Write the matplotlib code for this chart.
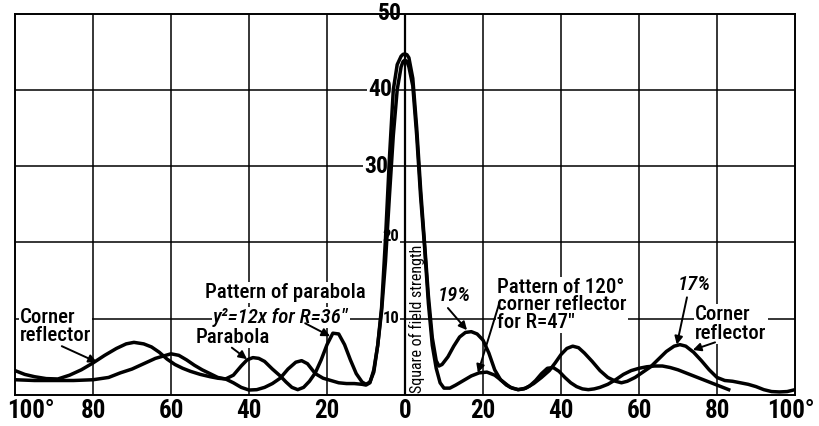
import matplotlib
matplotlib.use('Agg')
import matplotlib.pyplot as plt
from matplotlib import font_manager as fm


def pick_narrow_font():
    # the scan uses a narrow lettering font, take the narrowest one installed
    for fam in ['Roboto Condensed', 'Liberation Sans Narrow', 'Open Sans Condensed']:
        try:
            fm.findfont(fm.FontProperties(family=fam), fallback_to_default=False)
            return fam, 'normal'
        except ValueError:
            pass
    p = fm.findfont(fm.FontProperties(family='DejaVu Sans', stretch='condensed'))
    if 'Condensed' in p:
        return 'DejaVu Sans', 'condensed'
    return 'Liberation Sans', 'normal'


FAM, STRETCH = pick_narrow_font()
plt.rcParams['font.family'] = [FAM, 'DejaVu Sans']
plt.rcParams['font.stretch'] = STRETCH

# angle (deg) and square of field strength
parabola_deg = [-100, -95, -90, -85, -80, -76, -73, -70, -67, -64, -62, -60, -58, -56, -54, -52, -50, -48, -46,
                -44, -42, -40.5, -39, -37.5, -36, -34, -32, -30.5, -29, -27.5, -26, -24.5, -23, -21.5, -20,
                -18.5, -17, -15.5, -14, -12.5, -11, -10, -9, -8, -7, -6, -5, -4, -3, -2, -1, -0.5, 0, 0.5, 1,
                2, 3, 4, 5, 6, 7, 8, 8.7, 9.5, 11, 12.5, 14, 15.5, 17, 18.5, 20, 21.5, 23, 24.5, 26, 27.5,
                29, 30.5, 32, 33.5, 35, 36.5, 38, 39.5, 41, 42.5, 44, 45.5, 47, 48.5, 50, 52, 54, 56, 58, 60,
                62, 64, 66, 68, 70, 72, 74, 76, 78, 80, 82, 83]
parabola_val = [2.0, 1.9, 1.9, 1.9, 2.0, 2.3, 2.9, 3.4, 4.1, 4.8, 5.1, 5.4, 5.2, 4.6, 3.9, 3.3, 2.8, 2.3, 2.1,
                2.6, 3.8, 4.6, 4.9, 4.8, 4.4, 3.4, 2.5, 1.7, 1.0, 0.7, 1.0, 1.8, 2.9, 4.6, 6.6,
                8.1, 8.0, 6.6, 4.6, 2.8, 1.7, 1.4, 1.7, 3.0, 6.5, 11.5, 20.5, 31, 40, 43.3, 44.4, 44.65, 44.7, 44.6, 44.2,
                41.5, 35, 27, 20, 13, 7.5, 4.5, 3.8, 4.0, 5.0, 6.4, 7.6, 8.2, 8.3, 8.0, 7.2, 5.5, 3.3, 2.0, 1.3, 0.9,
                0.7, 0.8, 1.2, 1.9, 2.8, 3.5, 3.6, 3.1, 2.3, 1.6, 1.1, 0.8, 0.7, 0.8, 1.0, 1.4, 2.0, 2.7, 3.2, 3.5,
                3.7, 3.8, 3.8, 3.6, 3.3, 2.9, 2.5, 2.1, 1.7, 1.3, 0.9, 0.7]

corner_deg = [-100, -97.5, -95, -92, -89, -86, -83, -80, -77, -74, -71.5, -69.5, -67, -65, -63, -61, -59, -57,
              -55, -52.5, -50, -48, -46, -44, -42, -40, -38, -36, -34, -32, -30, -28, -26.5, -25, -23, -21,
              -19, -17, -15, -13, -11, -10, -9, -8, -7, -6, -5, -4, -3, -2, -1, -0.5, 0, 0.5, 1, 2, 3, 4, 5, 6,
              7, 8, 9, 10, 11.5, 13, 15, 17, 19, 21, 23, 25, 27, 29, 31, 33, 35, 37, 38.5, 40, 41.5, 43, 44.5,
              46, 48, 50, 52, 54, 55.5, 57, 59, 61, 63, 65, 67, 69, 70.5, 72, 74, 76, 78, 80, 82, 84, 86, 88,
              90, 92, 94, 96, 98, 100]
corner_val = [3.2, 2.7, 2.4, 2.15, 2.1, 2.6, 3.3, 4.2, 5.2, 6.1, 6.7, 6.9, 6.7, 6.3, 5.6, 4.7, 4.0, 3.5,
              3.1, 2.7, 2.4, 2.2, 2.1, 1.6, 1.0, 0.65, 0.7, 1.0, 1.5, 2.2, 3.4, 4.3, 4.5, 4.1, 2.8, 2.2,
              1.9, 1.6, 1.5, 1.5, 1.4, 1.3, 1.6, 3.3, 6.5, 11, 17.5, 26, 34, 40, 43, 43.7, 43.9, 43.7, 43,
              40.5, 34, 26, 19.5, 12, 6.5, 3.5, 1.6, 0.9, 0.9, 1.3, 1.9, 2.5, 2.9, 3.0, 2.6, 1.8, 1.0, 0.7,
              0.9, 1.5, 2.3, 3.2, 4.2, 5.3, 6.1, 6.4, 6.2, 5.5, 4.4, 3.2, 2.3, 1.8, 1.6, 1.8, 2.3, 3.0, 3.7,
              4.7, 5.7, 6.4, 6.6, 6.4, 5.6, 4.5, 3.3, 2.3, 1.9, 1.8, 1.6, 1.4, 1.1, 0.7, 0.45, 0.4, 0.45, 0.7]

x_ticks = [-100, -80, -60, -40, -20, 0, 20, 40, 60, 80, 100]
x_labels = ['100°', '80', '60', '40', '20', '0', '20', '40', '60', '80', '100°']
y_ticks = [10, 20, 30, 40, 50]

fig = plt.figure(figsize=(8.19, 4.26), dpi=100)
ax = fig.add_axes([15 / 819, 31 / 426, 780 / 819, 381.5 / 426])
ax.set_xlim(-100, 100)
ax.set_ylim(0, 50)
ax.set_xticks([])
ax.set_yticks([])
for s in ax.spines.values():
    s.set_linewidth(1.4)

for v in x_ticks[1:-1]:
    ax.axvline(v, color='black', lw=1.1 if v != 0 else 1.6, zorder=1)
for v in y_ticks[:-1]:
    ax.axhline(v, color='black', lw=1.1, zorder=1)

ax.plot(parabola_deg, parabola_val, color='black', lw=2.5, solid_joinstyle='round', zorder=3)
ax.plot(corner_deg, corner_val, color='black', lw=2.5, solid_joinstyle='round', zorder=3)

# bottom labels
for v, lbl in zip(x_ticks, x_labels):
    ha = 'center'
    dx = 0
    if v == -100:
        ha, dx = 'left', -6
    elif v == 100:
        ha, dx = 'right', 14
    ax.annotate(lbl, xy=(v, 0), xytext=(dx, -3), textcoords='offset points', ha=ha, va='top',
                fontsize=18, fontweight='bold', annotation_clip=False)

# y labels next to the centre line (sit left of the main lobe)
y_lab_dx = {10: -4, 20: -4, 30: -12, 40: -9, 50: -2}
for v in y_ticks:
    big = v >= 30
    ax.annotate(str(v), xy=(0, v), xytext=(y_lab_dx[v], 0 if v != 20 else 4), textcoords='offset points',
                ha='right', va='center', fontsize=17 if big else 12, fontweight='bold',
                annotation_clip=False, zorder=2.5,
                bbox=dict(boxstyle='square,pad=0.05', fc='white', ec='none'))

ax.text(1.0, 0.3, 'Square of field strength', rotation=90, ha='left', va='bottom', fontsize=11.5, zorder=4)

txt = dict(fontsize=15, fontweight='medium', zorder=4,
           bbox=dict(boxstyle='square,pad=0.05', fc='white', ec='none'))
arr = dict(arrowstyle='-|>', color='black', lw=1.4, mutation_scale=12, shrinkA=0, shrinkB=0)

ax.text(-98.7, 9.0, 'Corner\nreflector', ha='left', va='center', linespacing=0.95, **txt)
ax.annotate('', xy=(-79, 4.3), xytext=(-88, 6.4), arrowprops=arr, zorder=5)

ax.text(-51.3, 13.4, 'Pattern of parabola', ha='left', va='center', **txt)
ax.text(-49.2, 10.1, 'y²=12x for R=36″', ha='left', va='center', style='italic', **txt)
ax.annotate('', xy=(-19.2, 7.7), xytext=(-25.6, 9.4), arrowprops=arr, zorder=5)

ax.text(-53.6, 7.5, 'Parabola', ha='left', va='center', **txt)
ax.annotate('', xy=(-40.5, 4.7), xytext=(-44.4, 6.2), arrowprops=arr, zorder=5)

ax.text(8.5, 13.1, '19%', ha='left', va='center', style='italic', **txt)
ax.annotate('', xy=(15.9, 8.5), xytext=(11.0, 11.4), arrowprops=arr, zorder=5)

ax.text(23.6, 11.8, 'Pattern of 120°\ncorner reflector\nfor R=47″', ha='left', va='center',
        linespacing=0.9, **txt)
ax.annotate('', xy=(18.7, 2.9), xytext=(24.4, 12.4), arrowprops=arr, zorder=5)

ax.text(70.0, 14.5, '17%', ha='left', va='center', style='italic', **txt)
ax.annotate('', xy=(69.7, 6.6), xytext=(72.3, 12.8), arrowprops=arr, zorder=5)

ax.text(74.4, 9.3, 'Corner\nreflector', ha='left', va='center', linespacing=0.95, **txt)
ax.annotate('', xy=(73.8, 5.9), xytext=(79.5, 6.9), arrowprops=arr, zorder=5)

fig.savefig('out.png', dpi=100)
